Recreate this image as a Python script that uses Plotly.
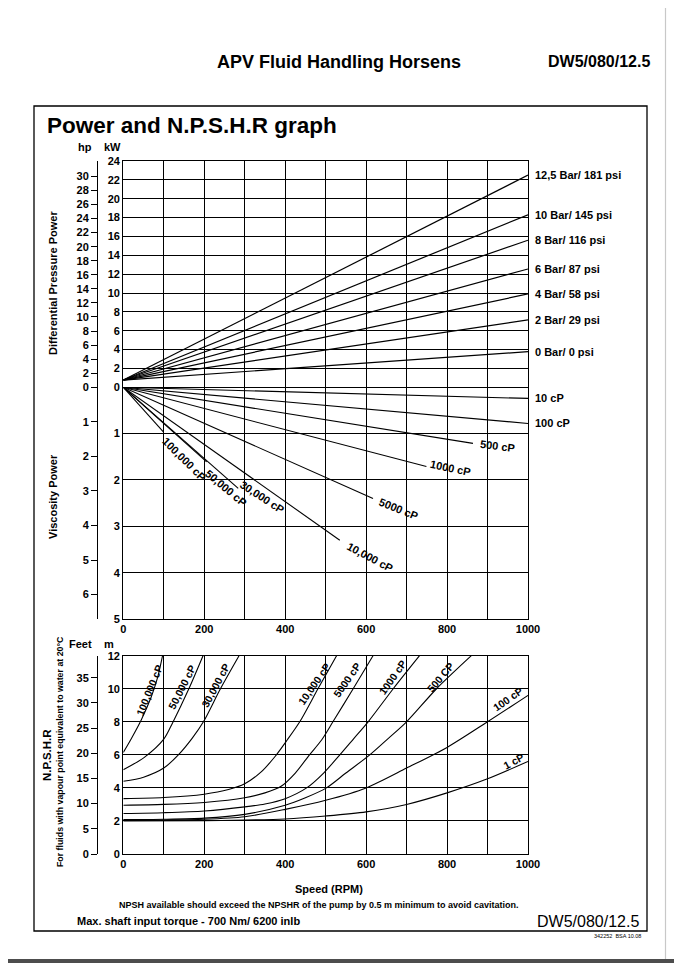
import plotly.graph_objects as go

# ---------------- data ----------------
rpm_ticks = list(range(0, 1001, 100))
rpm_ticktext = [str(v) if v % 200 == 0 else "" for v in rpm_ticks]

# Differential pressure power (kW) vs speed
dp_names = ["12,5 Bar/ 181 psi", "10 Bar/ 145 psi", "8 Bar/ 116 psi", "6 Bar/ 87 psi",
            "4 Bar/ 58 psi", "2 Bar/ 29 psi", "0 Bar/ 0 psi"]
dp_rpm = [0, 1000]
dp_kw_at_0 = [0.77, 0.77, 0.77, 0.77, 0.77, 0.77, 0.77]
dp_kw_at_1000 = [22.5, 18.3, 15.6, 12.55, 9.9, 7.15, 3.78]

# Viscosity power (kW) vs speed, lines from origin to end point
visc_names = ["10 cP", "100 cP", "500 cP", "1000 cP", "5000 cP",
              "10,000 cP", "30,000 cP", "50,000 cP", "100,000 cP"]
visc_end_rpm = [1000, 1000, 864, 749, 617, 535, 284, 206, 99]
visc_end_kw = [0.24, 0.78, 1.21, 1.71, 2.40, 3.30, 2.18, 1.61, 0.96]

# NPSHR (m) vs speed
npsh_names = ["100,000 cP", "50,000 cP", "30,000 cP", "10,000 cP", "5000 cP",
              "1000 cP", "500 CP", "100 cP", "1 cP"]
npsh_rpm_100000 = [0, 19, 44, 69, 85, 97]
npsh_m_100000 = [6.15, 6.95, 8.1, 9.5, 10.7, 12.0]
npsh_rpm_50000 = [0, 52, 100, 122, 162, 197]
npsh_m_50000 = [5.1, 5.85, 6.95, 7.95, 10.0, 12.0]
npsh_rpm_30000 = [0, 50, 100, 136, 170, 198, 240, 286]
npsh_m_30000 = [4.4, 4.65, 5.2, 6.0, 7.0, 8.0, 10.0, 12.0]
npsh_rpm_10000 = [0, 100, 200, 260, 300, 340, 375, 405, 436, 481, 527]
npsh_m_10000 = [3.35, 3.42, 3.62, 3.9, 4.25, 4.95, 5.9, 6.9, 8.0, 10.0, 12.0]
npsh_rpm_5000 = [0, 100, 200, 300, 350, 390, 425, 460, 490, 518, 568, 617]
npsh_m_5000 = [2.95, 3.0, 3.12, 3.4, 3.7, 4.1, 4.9, 6.0, 6.9, 8.0, 10.0, 12.0]
npsh_rpm_1000 = [0, 100, 200, 300, 350, 400, 453, 495, 535, 570, 605, 667, 732]
npsh_m_1000 = [2.45, 2.5, 2.6, 2.85, 3.03, 3.35, 4.0, 4.9, 6.0, 7.0, 8.0, 10.0, 12.0]
npsh_rpm_500 = [0, 100, 200, 300, 400, 450, 502, 550, 609, 655, 700, 774, 860]
npsh_m_500 = [2.08, 2.1, 2.17, 2.4, 2.95, 3.4, 4.0, 4.9, 6.0, 7.0, 8.0, 10.0, 12.0]
npsh_rpm_100 = [0, 100, 200, 300, 400, 500, 600, 700, 800, 900, 1000]
npsh_m_100 = [2.05, 2.06, 2.1, 2.25, 2.7, 3.25, 4.0, 5.2, 6.45, 8.0, 9.6]
npsh_rpm_1 = [0, 200, 300, 400, 500, 600, 700, 800, 900, 1000]
npsh_m_1 = [2.0, 2.02, 2.05, 2.12, 2.3, 2.55, 3.0, 3.7, 4.55, 5.6]

npsh_rpm = [npsh_rpm_100000, npsh_rpm_50000, npsh_rpm_30000, npsh_rpm_10000, npsh_rpm_5000,
            npsh_rpm_1000, npsh_rpm_500, npsh_rpm_100, npsh_rpm_1]
npsh_m = [npsh_m_100000, npsh_m_50000, npsh_m_30000, npsh_m_10000, npsh_m_5000,
          npsh_m_1000, npsh_m_500, npsh_m_100, npsh_m_1]

KW_PER_HP = 0.7457
M_PER_FT = 0.3048

# ---------------- label placement (layout only) ----------------
visc_label_pos = {  # rpm, kW, angle
    "100,000 cP": (150, 1.55, 45), "50,000 cP": (254, 2.17, 40), "30,000 cP": (343, 2.37, 33),
    "10,000 cP": (609, 3.66, 28), "5000 cP": (681, 2.63, 22), "1000 cP": (809, 1.74, 12),
    "500 cP": (925, 1.27, 7),
}
npsh_label_pos = {
    "100,000 cP": (64, 9.94, -68), "50,000 cP": (145, 10.1, -63), "30,000 cP": (229, 10.2, -62),
    "10,000 cP": (471, 10.3, -55), "5000 cP": (553, 10.5, -55), "1000 cP": (666, 10.7, -55),
    "500 CP": (784, 10.7, -50), "100 cP": (950, 9.4, -35), "1 cP": (965, 5.6, -28),
}

# ---------------- geometry (screen px; page body has an 8px offset) ----------------
W, H = 682, 963
ML, MR, MT, MB = 32, 48, 153, 117
PW = W - ML - MR
PH = H - MT - MB
SX0 = 8 + ML          # screen x of plot-area left
SY1 = 8 + H - MB      # screen y of plot-area bottom


def px(x):
    return (x - SX0) / PW


def py(y):
    return (SY1 - y) / PH


FONT = "Liberation Sans, Arial, sans-serif"
BOLD11 = dict(family=FONT, size=11, color="black", weight="bold")

fig = go.Figure()

LINE = dict(color="black", width=1.2)

for name, k0, k1 in zip(dp_names, dp_kw_at_0, dp_kw_at_1000):
    fig.add_trace(go.Scatter(x=dp_rpm, y=[k0, k1], mode="lines", line=LINE,
                             xaxis="x", yaxis="y", hoverinfo="skip", name=name))

for name, r1, k1 in zip(visc_names, visc_end_rpm, visc_end_kw):
    fig.add_trace(go.Scatter(x=[0, r1], y=[0, k1], mode="lines", line=dict(color="black", width=1.1),
                             xaxis="x2", yaxis="y3", hoverinfo="skip", name=name))

for name, rr, mm in zip(npsh_names, npsh_rpm, npsh_m):
    fig.add_trace(go.Scatter(x=rr, y=mm, mode="lines",
                             line=dict(color="black", width=1.1, shape="spline", smoothing=0.8),
                             xaxis="x3", yaxis="y5", hoverinfo="skip", name=name))

# invisible traces so the secondary (hp / feet) axes exist
for xa, ya in (("x", "y2"), ("x2", "y4"), ("x3", "y6")):
    fig.add_trace(go.Scatter(x=[0], y=[0], mode="markers", marker=dict(opacity=0),
                             xaxis=xa, yaxis=ya, hoverinfo="skip"))

xdom = [px(123.3), px(528)]
grid = dict(showgrid=True, gridcolor="black", gridwidth=1.2, zeroline=False,
            showline=True, linecolor="black", linewidth=1.3)

xcommon = dict(domain=xdom, range=[0, 1000], tickmode="array", tickvals=rpm_ticks,
               ticktext=rpm_ticktext, ticks="", tickfont=BOLD11, **grid)

sec = dict(anchor="free", position=px(97), side="left", showgrid=False, zeroline=False,
           showline=True, linecolor="black", linewidth=1, ticks="outside", ticklen=6,
           tickwidth=1, tickcolor="black", tickfont=BOLD11, tickmode="array")

fig.update_layout(
    width=W, height=H, margin=dict(l=ML, r=MR, t=MT, b=MB),
    paper_bgcolor="white", plot_bgcolor="white", showlegend=False,
    font=dict(family=FONT, color="black"),
    xaxis=dict(anchor="y", showticklabels=False, mirror=True, **xcommon),
    xaxis2=dict(anchor="y3", matches="x", showticklabels=True, mirror=False, **xcommon),
    xaxis3=dict(anchor="y5", matches="x", showticklabels=True, mirror=True, **xcommon),
    yaxis=dict(domain=[py(387.3), 1.0], range=[0, 24], anchor="x", tickmode="array", mirror=True,
               tickvals=list(range(0, 25, 2)), ticks="", tickfont=BOLD11, **grid),
    yaxis2=dict(overlaying="y", range=[0, 24 / KW_PER_HP], tickvals=list(range(0, 31, 2)), **sec),
    yaxis3=dict(domain=[py(619), py(387.3)], range=[5, 0], anchor="x2", tickmode="array", mirror=True,
                tickvals=[1, 2, 3, 4, 5], ticks="", tickfont=BOLD11, **grid),
    yaxis4=dict(overlaying="y3", range=[5 / KW_PER_HP, 0], tickvals=[1, 2, 3, 4, 5, 6], **sec),
    yaxis5=dict(domain=[0, py(655.7)], range=[0, 12], anchor="x3", tickmode="array", mirror=True,
                tickvals=list(range(0, 13, 2)), ticks="", tickfont=BOLD11, **grid),
    yaxis6=dict(overlaying="y5", range=[0, 12 / M_PER_FT], tickvals=list(range(0, 36, 5)), **sec),
)

ann = []


def text(t, x, y, size=11, bold=True, xanchor="center", angle=0, **kw):
    ann.append(dict(text=t, x=px(x), y=py(y), xref="paper", yref="paper", showarrow=False,
                    xanchor=xanchor, yanchor="middle", textangle=angle,
                    font=dict(family=FONT, size=size, color="black",
                              weight="bold" if bold else "normal"), **kw))


# right-hand pressure labels
for name, k1 in zip(dp_names, dp_kw_at_1000):
    ann.append(dict(text=name, x=1000, y=k1, xref="x", yref="y", xanchor="left", yanchor="middle",
                    xshift=5, showarrow=False, font=BOLD11))
# viscosity labels
for name, r1, k1 in zip(visc_names, visc_end_rpm, visc_end_kw):
    if name in visc_label_pos:
        r, k, a = visc_label_pos[name]
        ann.append(dict(text=name, x=r, y=k, xref="x2", yref="y3", textangle=a, showarrow=False,
                        font=BOLD11))
    else:
        ann.append(dict(text=name, x=r1, y=k1, xref="x2", yref="y3", xanchor="left", yanchor="middle",
                        xshift=5, showarrow=False, font=BOLD11))
# NPSHR labels
for name in npsh_names:
    r, m, a = npsh_label_pos[name]
    ann.append(dict(text=name, x=r, y=m, xref="x3", yref="y5", textangle=a, showarrow=False,
                    font=dict(family=FONT, size=10.5, color="black", weight="bold")))

text("APV Fluid Handling Horsens", 338.5, 61.7, size=18)
text("DW5/080/12.5", 546, 61.7, size=16, xanchor="left")
text("Power and N.P.S.H.R graph", 45, 126, size=22.5, xanchor="left")
text("hp", 85, 146.7)
text("kW", 112, 146.7)
text("Feet", 80, 644)
text("m", 108.5, 644)
text("Differential Pressure Power", 53, 283, angle=-90)
text("Viscosity Power", 53, 497, angle=-90)
text("N.P.S.H.R", 47, 755, size=11.5, angle=-90)
text("For fluids with vapour point equivalent to water at 20°C", 60, 752, size=8.8, angle=-90)
text("Speed (RPM)", 329, 889)
text("NPSH available should exceed the NPSHR of the pump by 0.5 m minimum to avoid cavitation.",
     319, 905, size=9)
text("Max. shaft input torque - 700 Nm/ 6200 inlb", 75, 921, size=11, xanchor="left")
text("DW5/080/12.5", 641, 921.5, size=16, bold=False, xanchor="right")
text("342252  BSA 10.08", 643, 936, size=5.5, bold=False, xanchor="right")

fig.update_layout(annotations=ann)

shapes = [
    dict(type="rect", xref="paper", yref="paper", x0=px(34), x1=px(647), y0=py(931), y1=py(106),
         line=dict(color="black", width=1.3), layer="below"),
    dict(type="line", xref="paper", yref="paper", x0=px(2), x1=px(2), y0=py(2), y1=py(959),
         line=dict(color="#c8c8c8", width=1.2)),
    dict(type="line", xref="paper", yref="paper", x0=px(665.5), x1=px(665.5), y0=py(2), y1=py(959),
         line=dict(color="#c8c8c8", width=1.2)),
    dict(type="line", xref="paper", yref="paper", x0=px(2), x1=px(665.5), y0=py(2.5), y1=py(2.5),
         line=dict(color="#c8c8c8", width=1.2)),
    dict(type="rect", xref="paper", yref="paper", x0=px(0), x1=px(682), y0=py(963), y1=py(959),
         line=dict(width=0), fillcolor="#4d4d4d"),
]
fig.update_layout(shapes=shapes)

fig.write_html("out.html")
